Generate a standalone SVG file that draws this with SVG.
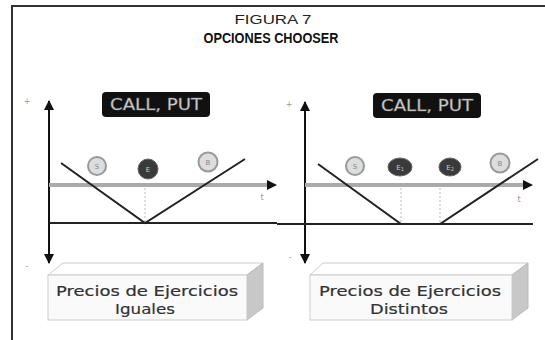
<svg xmlns="http://www.w3.org/2000/svg" width="545" height="340" viewBox="0 0 545 340">
<defs>
<marker id="ah" viewBox="0 0 10 10" refX="9" refY="5" markerWidth="10" markerHeight="10" markerUnits="userSpaceOnUse" orient="auto">
<path d="M0,0 L10,5 L0,10 Z" fill="#111"/>
</marker>
</defs>
<style>
.frame{stroke:#333;stroke-width:2;fill:none}
.axis{stroke:#111;stroke-width:2;fill:none}
.gray{stroke:#aaa;stroke-width:4;fill:none}
.base{stroke:#222;stroke-width:2;fill:none}
.v{stroke:#222;stroke-width:2;fill:none}
.dot{stroke:#bbb;stroke-width:1;stroke-dasharray:2,2;fill:none}
.lc{fill:#ddd;stroke:#999;stroke-width:2}
.dc{fill:#3a3a3a;stroke:#666;stroke-width:1}
.lt{font-family:"DejaVu Sans",sans-serif;font-size:7px;fill:#888;text-anchor:middle}
.dt{font-family:"DejaVu Sans",sans-serif;font-size:7px;fill:#ccc;text-anchor:middle}
.sm{font-family:"DejaVu Sans",sans-serif;font-size:8px;fill:#999;text-anchor:middle}
.cp{fill:#111}
.cpt{font-family:"DejaVu Sans",sans-serif;font-size:16px;fill:#ddd;stroke:#777;stroke-width:0.5;text-anchor:middle}
.front{fill:#fafafa;stroke:#ccc;stroke-width:1}
.top{fill:#fff;stroke:#ccc;stroke-width:1}
.side{fill:#c8c8c8;stroke:#bbb;stroke-width:1}
.bt{font-family:"DejaVu Sans",sans-serif;font-size:14.5px;fill:#333;stroke:#333;stroke-width:0.2;text-anchor:middle}
.t1{font-family:"Liberation Sans",sans-serif;font-size:13px;fill:#222;text-anchor:middle}
.t2{font-family:"Liberation Sans",sans-serif;font-size:14px;font-weight:bold;fill:#111;text-anchor:middle}
</style>
<rect width="545" height="340" fill="#fff"/>
<path class="frame" d="M12,340 L12,6 L545,6"/>
<g id="title">
<text class="t1" x="273" y="24" textLength="77" lengthAdjust="spacingAndGlyphs">FIGURA 7</text>
<text class="t2" x="271" y="43" textLength="135" lengthAdjust="spacingAndGlyphs">OPCIONES CHOOSER</text>
</g>
<g id="connectors">
<line class="axis" x1="49" y1="180" x2="49" y2="101" marker-end="url(#ah)"/>
<line class="axis" x1="49" y1="180" x2="49" y2="263" marker-end="url(#ah)"/>
<line class="gray" x1="49" y1="185" x2="268" y2="185"/>
<path d="M267,180 L277,185 L267,190 Z" fill="#111"/>
<line class="base" x1="49" y1="223" x2="277" y2="223"/>
<line class="dot" x1="145" y1="188" x2="145" y2="222"/>
<polyline class="v" points="61,163 145,223 245,159"/>
<line class="axis" x1="305" y1="180" x2="305" y2="102" marker-end="url(#ah)"/>
<line class="axis" x1="305" y1="180" x2="305" y2="263" marker-end="url(#ah)"/>
<line class="gray" x1="305" y1="185" x2="524" y2="185"/>
<path d="M523,180 L533,185 L523,190 Z" fill="#111"/>
<line class="base" x1="277" y1="224" x2="533" y2="224"/>
<line class="dot" x1="401" y1="188" x2="401" y2="223"/>
<line class="dot" x1="440" y1="188" x2="440" y2="223"/>
<polyline class="v" points="318,164 401,224 440,224 538,159"/>
</g>
<g id="labels-left">
<text class="sm" x="27" y="104">+</text>
<text class="sm" x="27" y="269">-</text>
<text class="sm" x="262" y="200">t</text>
</g>
<g id="labels-right">
<text class="sm" x="289" y="107">+</text>
<text class="sm" x="290" y="260">-</text>
<text class="sm" x="519" y="202">t</text>
</g>
<g id="callput-left">
<rect class="cp" x="102" y="92" width="108" height="25" rx="4"/>
<text class="cpt" x="156" y="110" textLength="92" lengthAdjust="spacingAndGlyphs">CALL, PUT</text>
</g>
<g id="callput-right">
<rect class="cp" x="373" y="93" width="108" height="25" rx="4"/>
<text class="cpt" x="427" y="111" textLength="92" lengthAdjust="spacingAndGlyphs">CALL, PUT</text>
</g>
<g id="c-left-1"><circle class="lc" cx="97" cy="166" r="9"/><text class="lt" x="97" y="169">S</text></g>
<g id="e-left"><circle class="dc" cx="148" cy="169" r="10"/><text class="dt" x="148" y="172">E</text></g>
<g id="b-left"><circle class="lc" cx="208" cy="162" r="9.5"/><text class="lt" x="208" y="165">B</text></g>
<g id="c-right-1"><circle class="lc" cx="355" cy="166" r="9"/><text class="lt" x="355" y="169">S</text></g>
<g id="e1-right"><ellipse class="dc" cx="400" cy="167" rx="12" ry="9"/><text class="dt" x="400" y="170">E<tspan font-size="5" dy="1">1</tspan></text></g>
<g id="e2-right"><ellipse class="dc" cx="450" cy="167" rx="11" ry="9"/><text class="dt" x="450" y="170">E<tspan font-size="5" dy="1">2</tspan></text></g>
<g id="b-right"><circle class="lc" cx="500" cy="163" r="9.5"/><text class="lt" x="500" y="166">B</text></g>
<g id="box-left">
<polygon class="top" points="48,275 63,263 263,263 247,275"/>
<polygon class="side" points="247,275 263,263 263,308 247,320"/>
<rect class="front" x="48" y="275" width="199" height="45"/>
<text class="bt" x="147" y="296" textLength="182" lengthAdjust="spacingAndGlyphs">Precios de Ejercicios</text>
<text class="bt" x="145" y="314" textLength="60" lengthAdjust="spacingAndGlyphs">Iguales</text>
</g>
<g id="box-right">
<polygon class="top" points="310,275 323,263 528,263 512,275"/>
<polygon class="side" points="512,275 528,263 528,308 512,320"/>
<rect class="front" x="310" y="275" width="202" height="45"/>
<text class="bt" x="410" y="296" textLength="182" lengthAdjust="spacingAndGlyphs">Precios de Ejercicios</text>
<text class="bt" x="409" y="314" textLength="78" lengthAdjust="spacingAndGlyphs">Distintos</text>
</g>
</svg>
